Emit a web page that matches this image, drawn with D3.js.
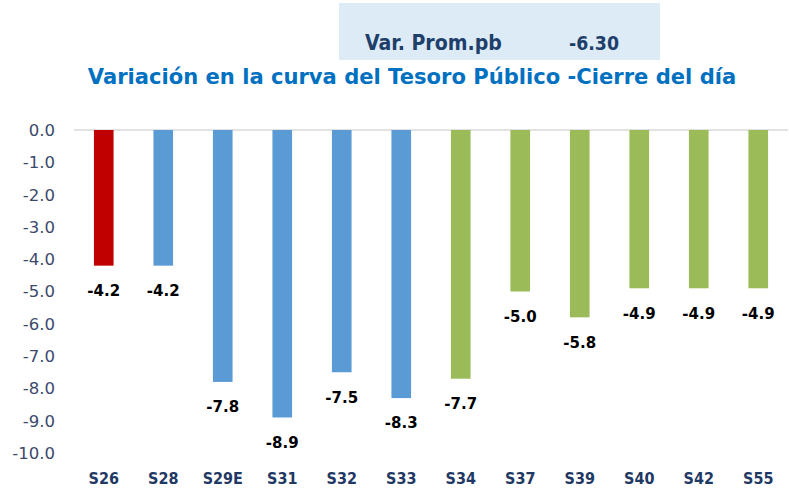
<!DOCTYPE html>
<html>
<head>
<meta charset="utf-8">
<script src="https://d3js.org/d3.v7.min.js"></script>
<style>
  body { margin: 0; background: #fff; }
  text { font-family: "DejaVu Sans", sans-serif; }
</style>
</head>
<body>
<div id="chart"></div>
<script>
// data
var bonos = ["S26","S28","S29E","S31","S32","S33","S34","S37","S39","S40","S42","S55"];
var variacion = [-4.2,-4.2,-7.8,-8.9,-7.5,-8.3,-7.7,-5.0,-5.8,-4.9,-4.9,-4.9];
var grupo = ["rojo","azul","azul","azul","azul","azul","verde","verde","verde","verde","verde","verde"];
var yTicks = [0,-1,-2,-3,-4,-5,-6,-7,-8,-9,-10];
var promLabel = "Var. Prom.pb";
var promValue = "-6.30";
var titulo = "Variación en la curva del Tesoro Público -Cierre del día";

var width = 789, height = 490;
var svg = d3.select("#chart").append("svg")
  .attr("width", width)
  .attr("height", height);

var colores = d3.scaleOrdinal(["rojo","azul","verde"], ["#C00000","#5B9BD5","#9BBB59"]);

var xs = d3.scaleBand().domain(bonos).range([74, 788])
  .paddingInner(0.67).paddingOuter(0.335);
var ys = d3.scaleLinear().domain([0, -10]).range([130, 453]);

var fmt = function(v) { return d3.format(".1f")(v).replace("\u2212", "-"); };

// stretch a text to a given width by changing its font size
function fitWidth(sel, w) {
  var fs = parseFloat(sel.attr("font-size"));
  var len = sel.node().getComputedTextLength();
  sel.attr("font-size", fs * w / len);
}

// header box
svg.append("rect")
  .attr("x", 339).attr("y", 3)
  .attr("width", 321).attr("height", 57)
  .attr("fill", "#DDEBF7");
var h1 = svg.append("text")
  .attr("x", 365).attr("y", 50)
  .attr("font-size", 17).attr("font-weight", "bold")
  .style("font-family", "'DejaVu Sans Condensed', 'DejaVu Sans', sans-serif")
  .attr("fill", "#1F3F6B")
  .text(promLabel);
fitWidth(h1, 137);
var h2 = svg.append("text")
  .attr("x", 569).attr("y", 50)
  .attr("font-size", 17).attr("font-weight", "bold")
  .style("font-family", "'DejaVu Sans Condensed', 'DejaVu Sans', sans-serif")
  .attr("fill", "#1F3F6B")
  .text(promValue);
fitWidth(h2, 50);

// title
var t = svg.append("text")
  .attr("x", 412).attr("y", 84)
  .attr("text-anchor", "middle")
  .attr("font-size", 20).attr("font-weight", "bold")
  .attr("fill", "#0070C0")
  .text(titulo);
fitWidth(t, 649);

// y axis labels
svg.append("g").selectAll("text")
  .data(yTicks).enter().append("text")
  .attr("x", 55)
  .attr("y", function(d) { return ys(d); })
  .attr("dy", "0.36em")
  .attr("text-anchor", "end")
  .attr("font-size", 16.5)
  .attr("fill", "#3B4A6B")
  .text(fmt);

// zero line
svg.append("line")
  .attr("x1", 74).attr("x2", 788)
  .attr("y1", ys(0)).attr("y2", ys(0))
  .attr("stroke", "#D9D9D9").attr("stroke-width", 1.5);

// bars
svg.append("g").selectAll("rect")
  .data(bonos).enter().append("rect")
  .attr("x", function(d) { return xs(d); })
  .attr("y", ys(0))
  .attr("width", xs.bandwidth())
  .attr("height", function(d, i) { return ys(variacion[i]) - ys(0); })
  .attr("fill", function(d, i) { return colores(grupo[i]); });

// data labels
svg.append("g").selectAll("text")
  .data(bonos).enter().append("text")
  .attr("x", function(d) { return xs(d) + xs.bandwidth() / 2; })
  .attr("y", function(d, i) { return ys(variacion[i]) + 25; })
  .attr("dy", "0.36em")
  .attr("text-anchor", "middle")
  .attr("font-size", 15).attr("font-weight", "bold")
  .attr("fill", "#000")
  .text(function(d, i) { return fmt(variacion[i]); });

// x labels
svg.append("g").selectAll("text")
  .data(bonos).enter().append("text")
  .attr("x", function(d) { return xs(d) + xs.bandwidth() / 2; })
  .attr("y", 478)
  .attr("dy", "0.36em")
  .attr("text-anchor", "middle")
  .attr("font-size", 16).attr("font-weight", "bold")
  .style("font-family", "'DejaVu Sans Condensed', 'DejaVu Sans', sans-serif")
  .attr("fill", "#1F3864")
  .text(function(d) { return d; });
</script>
</body>
</html>
